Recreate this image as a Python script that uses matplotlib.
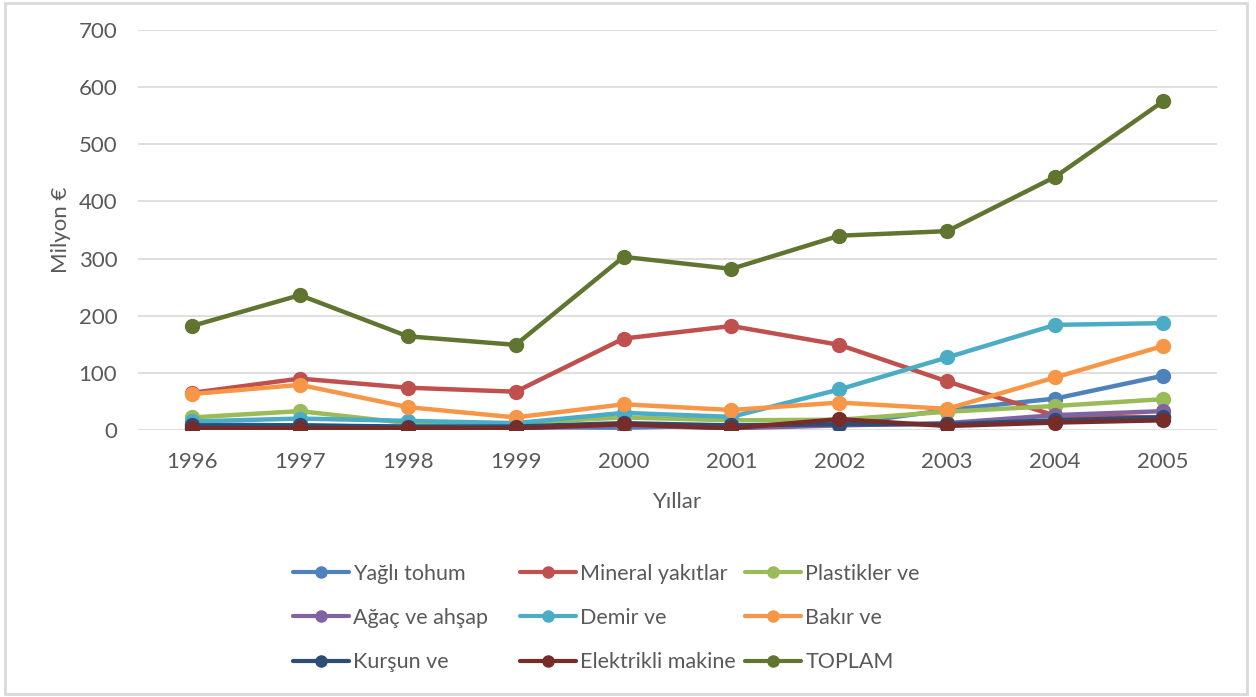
import matplotlib
matplotlib.use("Agg")
import matplotlib.pyplot as plt
from matplotlib.patches import Rectangle

years = ["1996", "1997", "1998", "1999", "2000", "2001", "2002", "2003", "2004", "2005"]

yagli_tohum = [10, 8, 5, 5, 4, 8, 10, 35, 55, 95]
mineral = [65, 90, 74, 67, 160, 182, 149, 85, 25, 22]
plastikler = [22, 33, 12, 12, 22, 17, 18, 32, 42, 54]
agac = [3, 3, 3, 3, 8, 3, 8, 12, 26, 33]
demir = [15, 20, 16, 12, 30, 23, 71, 127, 184, 187]
bakir = [63, 79, 40, 22, 45, 35, 48, 37, 92, 147]
kursun = [8, 8, 6, 6, 12, 8, 10, 10, 17, 22]
elektrikli = [3, 3, 3, 3, 10, 3, 19, 7, 13, 17]
toplam = [182, 236, 164, 149, 303, 282, 340, 348, 443, 575]

series_names = ["Yağlı tohum", "Mineral yakıtlar", "Plastikler ve",
                "Ağaç ve ahşap", "Demir ve", "Bakır ve",
                "Kurşun ve", "Elektrikli makine", "TOPLAM"]
series_values = [yagli_tohum, mineral, plastikler, agac, demir, bakir,
                 kursun, elektrikli, toplam]
colors = ["#4F81BD", "#C0504D", "#9BBB59", "#8064A2", "#4BACC6", "#F79646",
          "#2C4D75", "#772C2A", "#5F7530"]

plt.rcParams['font.family'] = ['Lato', 'DejaVu Sans']
text_color = "#595959"

fig = plt.figure(figsize=(12.56, 6.97), dpi=100)
ax = fig.add_axes([138/1256, 1-430/697, (1217-138)/1256, 400/697])

x = list(range(len(years)))
for name, vals, c in zip(series_names, series_values, colors):
    ax.plot(x, vals, color=c, lw=3.2, marker='o', markersize=10, label=name,
            solid_capstyle='round', zorder=3)

ax.set_xlim(-0.5, len(years) - 0.5)
ax.set_ylim(0, 700)
ax.set_yticks(range(0, 701, 100))
ax.set_xticks(x)
ax.set_xticklabels(years)
ax.tick_params(axis='both', length=0, labelsize=16, labelcolor=text_color)
ax.tick_params(axis='y', pad=15)
ax.tick_params(axis='x', pad=16)
for s in ax.spines.values():
    s.set_visible(False)
ax.grid(axis='y', color='#D9D9D9', lw=1.2, zorder=0)
ax.set_axisbelow(True)

ax.set_ylabel("Milyon €", fontsize=16, color=text_color, labelpad=5)
ax.set_xlabel("Yıllar", fontsize=16, color=text_color, labelpad=14)

handles, labels = ax.get_legend_handles_labels()
col_x = [293, 520, 745]
for ci in range(3):
    hs = handles[ci::3]
    ls = labels[ci::3]
    leg = fig.legend(hs, ls, loc='center left',
                     bbox_to_anchor=(col_x[ci]/1256, 1-618/697),
                     ncol=1, frameon=False, fontsize=15.5, handlelength=2.6,
                     handletextpad=0.2, labelspacing=1.13, borderpad=0,
                     borderaxespad=0, labelcolor=text_color)
    for ln in leg.get_lines():
        ln.set_linewidth(3)
        ln.set_markersize(8)

fig.patches.append(Rectangle((5/1256, 3/697), 1242/1256, 691/697, transform=fig.transFigure,
                             fill=False, edgecolor='#D9D9D9', lw=2))

fig.savefig("out.png", dpi=100, facecolor='white')
